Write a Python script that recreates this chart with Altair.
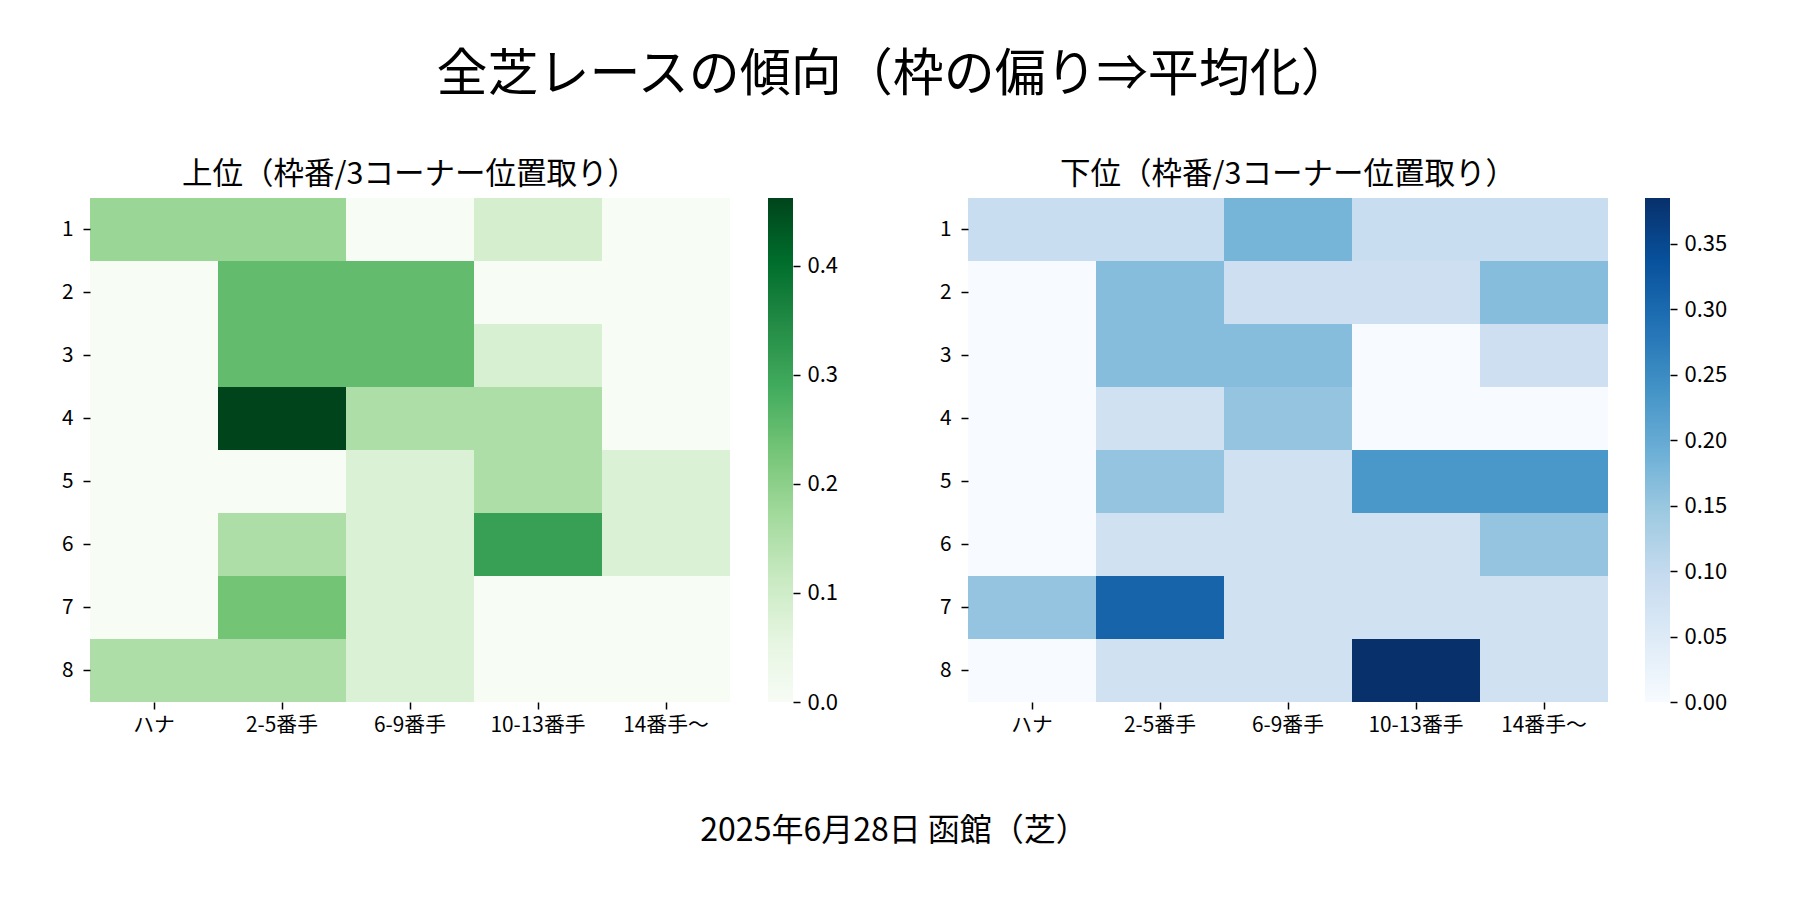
import altair as alt
import pandas as pd

FONT = "Noto Sans CJK JP"

SUPTITLE = "全芝レースの傾向（枠の偏り⇒平均化）"
FOOTER = "2025年6月28日 函館（芝）"
TITLE_UPPER = "上位（枠番/3コーナー位置取り）"
TITLE_LOWER = "下位（枠番/3コーナー位置取り）"

FRAMES = [1, 2, 3, 4, 5, 6, 7, 8]
POSITIONS = ["ハナ", "2-5番手", "6-9番手", "10-13番手", "14番手〜"]

# rows = 枠 1..8, columns = POSITIONS
UPPER = [
    [0.182, 0.182, 0.0, 0.091, 0.0],
    [0.0, 0.25, 0.25, 0.0, 0.0],
    [0.0, 0.25, 0.25, 0.083, 0.0],
    [0.0, 0.462, 0.154, 0.154, 0.0],
    [0.0, 0.0, 0.077, 0.154, 0.077],
    [0.0, 0.154, 0.077, 0.308, 0.077],
    [0.0, 0.231, 0.077, 0.0, 0.0],
    [0.154, 0.154, 0.077, 0.0, 0.0],
]
LOWER = [
    [0.091, 0.091, 0.182, 0.091, 0.091],
    [0.0, 0.167, 0.083, 0.083, 0.167],
    [0.0, 0.167, 0.167, 0.0, 0.083],
    [0.0, 0.077, 0.154, 0.0, 0.0],
    [0.0, 0.154, 0.077, 0.231, 0.231],
    [0.0, 0.077, 0.077, 0.077, 0.154],
    [0.154, 0.308, 0.077, 0.077, 0.077],
    [0.0, 0.077, 0.077, 0.385, 0.077],
]

UPPER_TICKS = [0.0, 0.1, 0.2, 0.3, 0.4]
LOWER_TICKS = [0.0, 0.05, 0.10, 0.15, 0.20, 0.25, 0.30, 0.35]

GREENS = ["#f7fcf5", "#e5f5e0", "#c7e9c0", "#a1d99b", "#74c476",
          "#41ab5d", "#238b45", "#006d2c", "#00441b"]
BLUES = ["#f7fbff", "#deebf7", "#c6dbef", "#9ecae1", "#6baed6",
         "#4292c6", "#2171b5", "#08519c", "#08306b"]

PLOT_W, PLOT_H = 640, 504
LABEL_SIZE = 20.8


def to_long(matrix, value_name):
    rows = []
    for frame, row in zip(FRAMES, matrix):
        for pos, v in zip(POSITIONS, row):
            rows.append({"枠": frame, "位置取り": pos, value_name: v})
    return pd.DataFrame(rows)


def heatmap(matrix, title, colors, value_name):
    df = to_long(matrix, value_name)
    vmax = max(max(r) for r in matrix)
    n = len(colors) - 1
    domain = [vmax * i / n for i in range(n + 1)]
    return (
        alt.Chart(df)
        .mark_rect()
        .encode(
            x=alt.X(
                "位置取り:N",
                sort=POSITIONS,
                title=None,
                axis=alt.Axis(labelAngle=0, labelPadding=6),
            ),
            y=alt.Y("枠:O", sort=FRAMES, title=None, axis=alt.Axis(labelPadding=10)),
            color=alt.Color(
                f"{value_name}:Q",
                scale=alt.Scale(domain=domain, range=colors, interpolate="rgb"),
                legend=None,
            ),
        )
        .properties(
            width=PLOT_W,
            height=PLOT_H,
            title=alt.TitleParams(
                title, fontSize=30.5, fontWeight="normal", offset=8, frame="group",
                anchor="middle", font=FONT, color="black",
            ),
        )
    )


def colorbar(matrix, colors, ticks, fmt):
    vmax = max(max(r) for r in matrix)
    cb = pd.DataFrame({"lo": [0.0], "hi": [vmax]})
    n = len(colors) - 1
    stops = [alt.GradientStop(offset=i / n, color=c) for i, c in enumerate(colors)]
    return (
        alt.Chart(cb)
        .mark_rect(
            color=alt.Gradient(gradient="linear", stops=stops, x1=0, x2=0, y1=1, y2=0)
        )
        .encode(
            y=alt.Y(
                "lo:Q",
                title=None,
                scale=alt.Scale(domain=[0, vmax], nice=False, zero=False),
                axis=alt.Axis(
                    orient="right", values=ticks, format=fmt, grid=False,
                    domain=False, labelFlush=False, labelOverlap=False,
                    labelPadding=7, labelFontSize=22,
                ),
            ),
            y2="hi:Q",
        )
        .properties(width=25, height=PLOT_H)
    )


left = alt.hconcat(
    heatmap(UPPER, TITLE_UPPER, GREENS, "上位"),
    colorbar(UPPER, GREENS, UPPER_TICKS, ".1f"),
    spacing=38,
)
right = alt.hconcat(
    heatmap(LOWER, TITLE_LOWER, BLUES, "下位"),
    colorbar(LOWER, BLUES, LOWER_TICKS, ".2f"),
    spacing=37,
)

body = alt.hconcat(left, right, spacing=101).resolve_scale(color="independent")
body = body.properties(
    title=alt.TitleParams(
        SUPTITLE, fontSize=51, fontWeight="normal", anchor="middle",
        offset=58, font=FONT, color="black",
    )
)

chart = (
    alt.vconcat(body)
    .properties(
        title=alt.TitleParams(
            FOOTER, orient="bottom", fontSize=32, fontWeight="normal",
            anchor="middle", offset=81, font=FONT, color="black",
        ),
        padding={"left": 53, "top": 41, "right": 0, "bottom": 0},
        background="white",
    )
    .configure_view(stroke=None)
    .configure_axis(
        labelFont=FONT,
        labelFontSize=LABEL_SIZE,
        labelColor="black",
        tickColor="black",
        tickSize=7,
        tickWidth=1.5,
        domain=False,
        grid=False,
    )
)

chart.save("out.html", embed_options={"renderer": "svg", "actions": False})
